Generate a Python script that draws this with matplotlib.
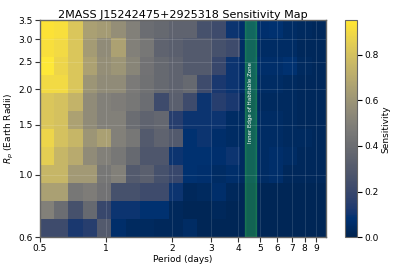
import matplotlib

matplotlib.use("Agg")
import matplotlib.pyplot as plt
import numpy as np

# grid of injection-recovery bins (log spaced)
period_edges = np.geomspace(0.5, 10.0, 21)
radius_edges = np.geomspace(0.6, 3.5, 13)

# sensitivity per bin, rows from smallest radius (bottom) to largest (top)
sensitivity = np.array([
    [0.22, 0.22, 0.12, 0.15, 0.30, 0.06, 0.04, 0.04, 0.03, 0.03, 0.05, 0.02, 0.02, 0.02, 0.02, 0.02, 0.02, 0.02, 0.02, 0.02],
    [0.50, 0.40, 0.25, 0.38, 0.20, 0.10, 0.10, 0.08, 0.08, 0.03, 0.02, 0.02, 0.03, 0.02, 0.02, 0.02, 0.02, 0.02, 0.02, 0.02],
    [0.65, 0.65, 0.45, 0.48, 0.43, 0.25, 0.25, 0.22, 0.22, 0.10, 0.03, 0.04, 0.06, 0.03, 0.02, 0.02, 0.02, 0.02, 0.02, 0.02],
    [0.75, 0.75, 0.62, 0.62, 0.45, 0.50, 0.30, 0.33, 0.25, 0.20, 0.08, 0.07, 0.05, 0.06, 0.04, 0.05, 0.06, 0.03, 0.03, 0.03],
    [0.85, 0.75, 0.70, 0.55, 0.50, 0.45, 0.38, 0.28, 0.28, 0.10, 0.08, 0.08, 0.07, 0.10, 0.04, 0.05, 0.06, 0.05, 0.03, 0.03],
    [0.88, 0.80, 0.75, 0.60, 0.65, 0.50, 0.45, 0.30, 0.35, 0.30, 0.08, 0.10, 0.06, 0.05, 0.04, 0.05, 0.05, 0.04, 0.04, 0.03],
    [0.82, 0.80, 0.66, 0.55, 0.50, 0.50, 0.40, 0.35, 0.37, 0.15, 0.10, 0.10, 0.10, 0.05, 0.04, 0.05, 0.05, 0.04, 0.03, 0.03],
    [0.82, 0.80, 0.74, 0.55, 0.50, 0.48, 0.45, 0.40, 0.22, 0.33, 0.22, 0.10, 0.15, 0.12, 0.03, 0.04, 0.04, 0.04, 0.03, 0.03],
    [0.90, 0.90, 0.82, 0.60, 0.55, 0.55, 0.47, 0.42, 0.38, 0.35, 0.38, 0.22, 0.12, 0.10, 0.05, 0.05, 0.05, 0.04, 0.03, 0.03],
    [0.95, 0.88, 0.82, 0.66, 0.57, 0.60, 0.52, 0.43, 0.38, 0.35, 0.30, 0.30, 0.20, 0.10, 0.05, 0.06, 0.06, 0.08, 0.04, 0.03],
    [0.92, 0.90, 0.82, 0.63, 0.55, 0.66, 0.50, 0.45, 0.35, 0.33, 0.30, 0.30, 0.25, 0.22, 0.05, 0.05, 0.05, 0.05, 0.03, 0.03],
    [0.93, 0.92, 0.82, 0.65, 0.63, 0.57, 0.50, 0.40, 0.38, 0.35, 0.35, 0.25, 0.22, 0.10, 0.06, 0.07, 0.08, 0.05, 0.04, 0.03],
])

hz_inner = (4.3, 4.8)
hz_label = "Inner Edge of Habitable Zone"

period_ticks = [0.5, 1, 2, 3, 4, 5, 6, 7, 8, 9]
period_labels = ["0.5", "1", "2", "3", "4", "5", "6", "7", "8", "9"]
radius_ticks = [0.6, 1.0, 1.5, 2.0, 2.5, 3.0, 3.5]
radius_labels = ["0.6", "1.0", "1.5", "2.0", "2.5", "3.0", "3.5"]

fig = plt.figure(figsize=(4.07, 2.71), dpi=100)
ax = fig.add_axes([0.098, 0.124, 0.703, 0.801])
cax = fig.add_axes([0.848, 0.124, 0.029, 0.801])

mesh = ax.pcolormesh(period_edges, radius_edges, sensitivity, cmap="cividis",
                     vmin=0.0, vmax=sensitivity.max())
ax.set_xscale("log")
ax.set_yscale("log")
ax.set_xlim(period_edges[0], period_edges[-1])
ax.set_ylim(radius_edges[0], radius_edges[-1])

ax.axvspan(*hz_inner, facecolor="#2fbf4f", edgecolor="#2fbf4f", alpha=0.4, lw=1)
ax.text(np.sqrt(hz_inner[0] * hz_inner[1]), 1.8, hz_label, rotation=90,
        color="white", fontsize=4, ha="center", va="center")

ax.xaxis.set_major_locator(matplotlib.ticker.FixedLocator(period_ticks))
ax.xaxis.set_minor_locator(matplotlib.ticker.NullLocator())
ax.set_xticklabels(period_labels)
ax.yaxis.set_major_locator(matplotlib.ticker.FixedLocator(radius_ticks))
ax.yaxis.set_minor_locator(matplotlib.ticker.NullLocator())
ax.set_yticklabels(radius_labels)
ax.grid(True, color="white", alpha=0.15, lw=0.6)
ax.tick_params(labelsize=6.5, length=3.5, width=0.8, color="#333333", pad=1.5)

for spine in ax.spines.values():
    spine.set_color("#666666")
    spine.set_linewidth(1.0)

ax.set_xlabel("Period (days)", fontsize=6.5, labelpad=1)
ax.set_ylabel("$R_p$ (Earth Radii)", fontsize=6.5, labelpad=2)
ax.set_title("2MASS J15242475+2925318 Sensitivity Map", fontsize=8, pad=2)

cbar = fig.colorbar(mesh, cax=cax)
cbar.set_label("Sensitivity", fontsize=6.5, labelpad=2)
cbar.ax.tick_params(labelsize=6.5, length=3.5, width=0.8, pad=1.5)
cbar.outline.set_edgecolor("#666666")

fig.savefig("out.png", dpi=100)
